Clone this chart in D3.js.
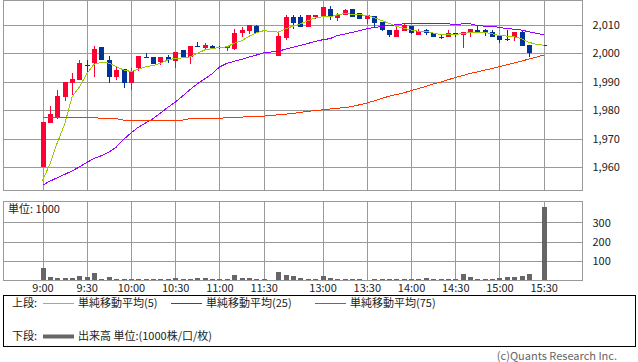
<!DOCTYPE html>
<html>
<head>
<meta charset="utf-8">
<script src="https://cdn.jsdelivr.net/npm/d3@7"></script>
<style>
  body { margin: 0; background: #fff; }
  svg { display: block; font-family: "Noto Sans CJK JP", "Noto Sans", sans-serif; }
</style>
</head>
<body>
<div id="chart"></div>
<script>
// 5-minute slots, 9:00-11:30, one empty lunch slot, 12:30-15:30
var slots = ["9:00","9:05","9:10","9:15","9:20","9:25","9:30","9:35","9:40","9:45","9:50","9:55",
  "10:00","10:05","10:10","10:15","10:20","10:25","10:30","10:35","10:40","10:45","10:50","10:55",
  "11:00","11:05","11:10","11:15","11:20","11:25","11:30","12:25",
  "12:30","12:35","12:40","12:45","12:50","12:55","13:00","13:05","13:10","13:15","13:20","13:25",
  "13:30","13:35","13:40","13:45","13:50","13:55","14:00","14:05","14:10","14:15","14:20","14:25",
  "14:30","14:35","14:40","14:45","14:50","14:55","15:00","15:05","15:10","15:15","15:20","15:25","15:30"];

var xTicks = ["9:00","9:30","10:00","10:30","11:00","11:30","13:00","13:30","14:00","14:30","15:00","15:30"];
var priceTicks = [1960, 1970, 1980, 1990, 2000, 2010];
var volTicks = [100, 200, 300];

var open = [1960.0,1975.6,1977.7,1984.8,1989.7,1990.6,1995.8,1996.5,2002.1,1997.7,1991.8,1994.4,
  1989.7,1994.9,1998.8,1998.8,1997.0,1998.6,1997.4,2001.2,1998.8,2002.6,2001.9,2002.6,
  2002.1,2001.9,2001.7,2007.3,2008.0,2009.6,2008.2,null,
  1999.1,2005.4,2012.9,2012.9,2009.4,2012.7,2012.9,2015.7,2012.5,2013.4,2015.5,2014.1,
  2012.0,2013.2,2011.1,2008.2,2005.9,2008.0,2009.6,2006.4,2008.2,2007.3,2005.9,2005.7,
  2007.3,2006.4,2007.1,2008.2,2008.2,2007.5,2006.1,2005.0,2005.7,2007.5,2002.9,null,2002.9];
var high = [1976.0,1981.5,1987.1,1990.0,1993.2,1997.7,1997.7,2002.6,2002.1,1999.1,1995.1,1994.4,
  1994.9,1999.1,2000.0,1998.8,1998.6,1999.3,2000.5,2001.2,2002.6,2004.0,2003.6,2003.1,
  2002.6,2002.6,2008.7,2009.2,2009.9,2010.1,2008.2,null,
  2007.5,2013.6,2013.6,2013.6,2013.6,2013.6,2016.4,2016.7,2014.3,2015.7,2015.5,2014.1,
  2013.4,2013.2,2011.1,2008.2,2009.4,2010.4,2009.6,2008.5,2008.7,2007.3,2006.6,2008.2,
  2007.3,2007.5,2008.7,2009.9,2008.7,2008.2,2006.1,2008.2,2007.5,2008.0,2002.9,null,2002.9];
var low = [1960.0,1975.4,1976.8,1983.3,1985.5,1990.6,1993.4,1991.8,1997.7,1989.5,1990.6,1987.8,
  1987.1,1993.7,1998.4,1996.3,1996.0,1996.7,1994.9,1998.8,1996.3,2002.1,2001.2,2001.7,
  2001.7,2001.0,2001.2,2005.9,2006.8,2007.1,2008.2,null,
  1999.1,2004.7,2008.5,2009.4,2009.4,2012.2,2012.9,2011.8,2011.5,2013.4,2012.7,2012.0,
  2010.4,2009.2,2007.8,2005.7,2005.9,2008.0,2006.8,2006.4,2006.4,2005.7,2005.0,2005.7,
  2005.7,2001.9,2005.7,2007.5,2006.1,2005.9,2003.8,2004.5,2004.5,2002.6,1998.8,null,2002.9];
var close = [1975.8,1978.7,1985.0,1989.9,1991.0,1996.7,1995.8,2001.4,1997.7,1991.8,1994.2,1989.5,
  1993.9,1999.1,1998.4,1996.3,1998.6,1997.7,2000.5,1998.8,2002.6,2002.1,2002.9,2001.7,
  2002.1,2002.6,2007.3,2008.2,2009.9,2007.1,2008.2,null,
  2006.1,2012.9,2010.6,2009.4,2013.4,2013.4,2016.4,2012.9,2013.6,2015.3,2012.9,2012.0,
  2013.4,2010.8,2008.2,2006.4,2008.2,2009.9,2007.1,2008.0,2007.1,2005.7,2005.9,2007.1,
  2006.6,2007.5,2008.5,2007.5,2007.1,2005.9,2004.7,2005.0,2007.5,2002.6,2000.0,null,2002.9];

var volume = [64,16,10,10,10,21,16,36,5,16,5,5,
  5,5,5,5,5,5,10,3,5,10,10,5,
  5,5,26,10,10,5,3,null,
  41,26,21,10,5,5,21,10,5,5,5,3,
  2,5,5,5,5,5,5,5,10,5,5,5,
  5,31,16,5,5,5,10,16,16,21,31,null,380];

var sma5 = [1955.2,1961.0,1968.5,1975.0,1984.6,1988.2,1992.8,1996.2,1996.8,1996.6,1995.3,1994.2,
  1993.6,1994.4,1995.3,1995.7,1996.5,1997.7,1998.3,1998.4,1998.8,2000.0,2001.2,2001.7,
  2002.1,2002.3,2003.6,2004.4,2006.0,2007.2,2008.0,null,
  2007.5,2008.7,2009.6,2010.4,2011.5,2012.5,2012.9,2012.9,2013.6,2014.0,2013.8,2013.6,
  2013.4,2012.6,2011.6,2010.6,2009.5,2008.9,2008.2,2007.8,2007.8,2007.2,2006.6,2006.6,
  2006.6,2007.0,2007.3,2007.5,2007.4,2006.9,2006.3,2006.1,2005.9,2005.1,2003.9,2003.2,2002.9];
var sma25 = [1953.6,1955.0,1956.2,1957.4,1958.6,1960.0,1961.6,1963.0,1964.0,1965.2,1967.0,1969.7,
  1972.0,1974.0,1975.5,1977.0,1979.0,1981.0,1982.8,1985.0,1987.2,1989.3,1991.0,1992.8,
  1995.2,1996.5,1997.2,1997.9,1998.7,1999.4,2000.2,null,
  2000.8,2001.5,2002.2,2002.8,2003.5,2004.2,2004.8,2005.2,2006.3,2006.8,2007.4,2008.0,
  2008.7,2009.1,2009.5,2009.8,2010.1,2010.4,2010.4,2010.4,2010.4,2010.4,2010.4,2010.4,
  2010.2,2010.4,2010.4,2009.8,2009.6,2009.6,2009.1,2008.8,2008.5,2008.2,2007.6,2007.1,2006.6];
var sma75 = [1977.5,1977.5,1977.5,1977.5,1977.5,1977.5,1977.5,1977.5,1977.0,1977.0,1977.0,1976.5,
  1976.5,1976.5,1976.5,1976.5,1976.5,1976.5,1976.5,1976.5,1977.0,1977.0,1977.0,1977.0,
  1977.0,1977.5,1977.5,1977.5,1977.9,1977.9,1977.9,null,
  1978.4,1978.6,1978.9,1979.2,1979.6,1979.9,1980.1,1980.4,1980.7,1980.9,1981.3,1981.9,
  1982.5,1983.3,1984.1,1984.9,1985.5,1986.1,1986.9,1987.6,1988.4,1989.2,1989.9,1990.7,
  1991.5,1992.2,1992.9,1993.5,1994.1,1994.7,1995.3,1996.0,1996.6,1997.3,1998.0,1998.7,1999.4];

var W = 638, H = 362;
var left = 3.5, right = 582.5;
var top1 = 0.5, bot1 = 190.5;
var top2 = 201.5, bot2 = 280.5;

var upColor = "#ff0033", downColor = "#003399", gridColor = "#999999";
var maColors = ["#99cc00", "#9900ff", "#ff3300"];

var svg = d3.select("#chart").append("svg")
    .attr("width", W)
    .attr("height", H);

var x = d3.scalePoint().domain(slots).range([42.5, 543.7]);
var y = d3.scaleLinear().domain([1951.9, 2018.8]).range([190, 0]);
var yv = d3.scaleLinear().domain([0, 412]).range([280, 201]);

function snap(v) { return Math.round(v) + 0.5; }

// grid and frames
function drawPanel(t, b, yTickVals, yScale) {
  var g = svg.append("g");
  g.selectAll(".vg").data(xTicks).enter().append("line")
    .attr("x1", function(d) { return snap(x(d)); })
    .attr("x2", function(d) { return snap(x(d)); })
    .attr("y1", t).attr("y2", b)
    .attr("stroke", gridColor);
  g.selectAll(".hg").data(yTickVals).enter().append("line")
    .attr("x1", left).attr("x2", right)
    .attr("y1", function(d) { return snap(yScale(d)); })
    .attr("y2", function(d) { return snap(yScale(d)); })
    .attr("stroke", gridColor);
  g.append("rect")
    .attr("x", left).attr("y", t)
    .attr("width", right - left).attr("height", b - t)
    .attr("fill", "none").attr("stroke", gridColor);
}
drawPanel(top1, bot1, priceTicks, y);
drawPanel(top2, bot2, volTicks, yv);

// candles
var candles = slots.map(function(s, i) {
  return {t: s, o: open[i], h: high[i], l: low[i], c: close[i]};
}).filter(function(d) { return d.o != null; });

var cg = svg.append("g").attr("shape-rendering", "crispEdges");
cg.selectAll(".wick").data(candles).enter().append("line")
  .attr("x1", function(d) { return snap(x(d.t)); })
  .attr("x2", function(d) { return snap(x(d.t)); })
  .attr("y1", function(d) { return y(d.h); })
  .attr("y2", function(d) { return y(d.l); })
  .attr("stroke", function(d) { return d.c > d.o ? upColor : downColor; });
cg.selectAll(".body").data(candles).enter().append("rect")
  .attr("x", function(d) { return Math.round(x(d.t)) - 2; })
  .attr("width", 5)
  .attr("y", function(d) { return y(Math.max(d.o, d.c)); })
  .attr("height", function(d) { return Math.max(1, Math.abs(y(d.o) - y(d.c))); })
  .attr("fill", function(d) { return d.c > d.o ? upColor : downColor; });

// moving averages
[sma5, sma25, sma75].forEach(function(arr, k) {
  var pts = slots.map(function(s, i) { return {t: s, v: arr[i]}; })
                 .filter(function(d) { return d.v != null; });
  svg.append("path")
    .datum(pts)
    .attr("fill", "none")
    .attr("stroke", maColors[k])
    .attr("stroke-width", 1)
    .attr("shape-rendering", "crispEdges")
    .attr("d", d3.line()
      .x(function(d) { return x(d.t); })
      .y(function(d) { return y(d.v); }));
});

// volume
var vols = slots.map(function(s, i) { return {t: s, v: volume[i]}; })
                .filter(function(d) { return d.v != null; });
svg.append("g").attr("shape-rendering", "crispEdges")
  .selectAll("rect").data(vols).enter().append("rect")
  .attr("x", function(d) { return Math.round(x(d.t)) - 2; })
  .attr("width", 5)
  .attr("y", function(d) { return yv(d.v); })
  .attr("height", function(d) { return 280 - yv(d.v); })
  .attr("fill", "#666666");

// axes
var yAxis = svg.append("g")
  .attr("transform", "translate(" + right + ",0)")
  .call(d3.axisRight(y).tickValues(priceTicks).tickSize(0).tickPadding(10).tickFormat(d3.format(",")));
var vAxis = svg.append("g")
  .attr("transform", "translate(" + right + ",0)")
  .call(d3.axisRight(yv).tickValues(volTicks).tickSize(0).tickPadding(10));
var xAxis = svg.append("g")
  .attr("transform", "translate(0," + 280 + ")")
  .call(d3.axisBottom(x).tickValues(xTicks).tickSize(0).tickPadding(4));

[yAxis, vAxis, xAxis].forEach(function(a) {
  a.select(".domain").remove();
  a.selectAll("text").attr("font-size", 11).attr("fill", "#222")
    .attr("font-family", "\"Noto Sans CJK JP\", sans-serif");
});

svg.append("text")
  .attr("x", 8).attr("y", 213)
  .attr("font-size", 11).attr("fill", "#222")
  .text("単位: 1000");

// legend
var lg = svg.append("g").attr("font-size", 11).attr("fill", "#222");
lg.append("rect")
  .attr("x", 3.5).attr("y", 295.5).attr("width", 632).attr("height", 51)
  .attr("fill", "none").attr("stroke", "#000");
lg.append("text").attr("x", 12).attr("y", 307).text("上段:");
var legItems = [
  {x: 43, label: "単純移動平均(5)"},
  {x: 171, label: "単純移動平均(25)"},
  {x: 315, label: "単純移動平均(75)"}
];
legItems.forEach(function(d, k) {
  lg.append("line")
    .attr("x1", d.x).attr("x2", d.x + 31)
    .attr("y1", 303.5).attr("y2", 303.5)
    .attr("stroke", maColors[k]);
  lg.append("text").attr("x", d.x + 35).attr("y", 307).text(d.label);
});
lg.append("text").attr("x", 12).attr("y", 340).text("下段:");
lg.append("line")
  .attr("x1", 43).attr("x2", 74)
  .attr("y1", 336.5).attr("y2", 336.5)
  .attr("stroke", "#666").attr("stroke-width", 4);
lg.append("text").attr("x", 78).attr("y", 340).text("出来高 単位:(1000株/口/枚)");

svg.append("text")
  .attr("x", 617).attr("y", 360)
  .attr("text-anchor", "end")
  .attr("font-size", 11).attr("fill", "#666")
  .text("(c)Quants Research Inc.");
</script>
</body>
</html>
